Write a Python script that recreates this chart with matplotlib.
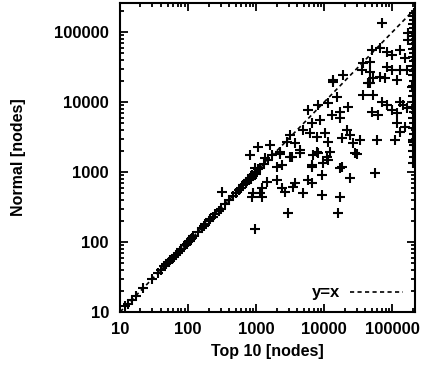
import matplotlib
matplotlib.use("Agg")
import matplotlib.pyplot as plt
from matplotlib.ticker import LogLocator, FixedLocator, NullFormatter

plt.rcParams['font.family'] = ['Liberation Sans', 'DejaVu Sans']
plt.rcParams['font.weight'] = 'bold'

# Points lying on / near the diagonal (Top 10 vs Normal)
diag_x = [12, 13, 15, 17, 22, 30, 36, 40, 45, 48, 52, 55, 58, 62, 66, 70, 75, 80,
          90, 95, 100, 105, 110, 115, 120, 140, 160, 170, 180, 200, 210, 230, 250,
          280, 300, 350, 400, 450, 500, 550, 600, 650, 700, 720, 750, 780, 800,
          830, 870, 900, 950, 1000, 1050, 1150, 1300, 1500]
diag_y = [12, 13, 15, 17, 22, 30, 36, 40, 45, 48, 52, 55, 58, 62, 66, 70, 75, 80,
          90, 95, 100, 105, 110, 115, 120, 140, 160, 170, 180, 200, 210, 230, 250,
          280, 300, 350, 400, 450, 500, 550, 600, 650, 720, 700, 780, 760, 820,
          800, 900, 870, 1000, 950, 1100, 1150, 1300, 1500]

# Scattered points
scat_x = [817, 2254, 3383, 4437, 6887, 8166, 12250, 30550, 2036, 2412, 6668, 9660,
          11450, 17180, 24100, 2036, 2412, 2669, 3748, 3500, 4910, 5821, 6668, 9350,
          9350, 17180, 2958, 16070, 56230, 1452, 316, 903, 1145, 1225, 873, 1225, 967,
          13560, 37500, 52600, 47460, 196800, 15530, 71290, 84370, 100000, 118500,
          131200, 145200, 166300, 13120, 17180, 22540, 17180, 50820, 62230, 118500,
          155400, 131200, 21780, 24100, 26690, 10350, 11450, 18400, 33830, 60140,
          110700, 203700, 28570, 18400,
          71290, 13560, 19020, 50820, 66680, 84370, 100000, 131200, 171800, 171800,
          37500, 47460, 36220, 47460, 52600, 66680, 44370, 84370, 100000, 131200,
          166300, 155400, 78890, 118500,
          5821, 8166, 11450, 8730, 6668, 4910, 6226, 7889, 3162, 2857, 3748, 4437,
          2254, 1069, 1607, 1356, 1718, 7889, 11070, 6668, 967, 3162,
          205000, 200000, 205000, 200000, 205000, 200000, 205000, 200000, 205000,
          200000, 205000, 200000, 205000, 200000, 205000, 200000, 205000, 200000,
          205000, 200000, 205000, 200000, 205000, 200000, 205000, 200000, 205000,
          200000, 205000, 200000, 205000, 200000]
scat_y = [1750, 1810, 1640, 1870, 1750, 1870, 1930, 1810, 1179, 1259, 1179, 1345,
          1485, 1141, 820, 768, 591, 518, 696, 610, 501, 768, 696, 906,
          469, 439, 260, 260, 968, 720, 518, 501, 501, 591, 439, 439, 153,
          19310, 12590, 12590, 18680, 16380, 11790, 10000, 9060, 7690, 6970,
          10000, 9060, 8210, 6520, 7200, 8480, 5910, 7200, 6520, 5010,
          4390, 3730, 3980, 3380, 2600, 3610, 2680, 3060, 2870, 2870,
          2870, 2680, 1870, 1179,
          134400, 20630, 24300, 55300, 59100, 51800, 46900, 55300, 96700, 76900,
          36100, 37300, 28650, 26830, 22030, 22760, 18680, 31620, 28650, 28650,
          28650, 42500, 22030, 20630,
          7690, 9060, 9680, 5530, 5010, 3980, 3610, 3162, 3380, 2680, 2600, 2060,
          1930, 2280, 2430, 1585, 1750, 1930, 1640, 1259, 1141, 1640,
          190000, 170000, 150000, 130000, 115000, 100000, 88000, 77000, 67000,
          58000, 50000, 44000, 38000, 33000, 28000, 24000, 20000, 17000,
          14500, 12000, 10000, 8500, 7200, 6000, 5000, 4200, 3500,
          2900, 2400, 2000, 1650, 1350]

x_ticks = [10, 100, 1000, 10000, 100000]
x_labels = ["10", "100", "1000", "10000", "100000"]
y_ticks = [10, 100, 1000, 10000, 100000]
y_labels = ["10", "100", "1000", "10000", "100000"]

fig = plt.figure(figsize=(4.24, 3.70), dpi=100)
ax = fig.add_axes([120/424, 1-312/370, 295/424, 309/370])
ax.set_xscale('log')
ax.set_yscale('log')
ax.set_xlim(10, 215000)
ax.set_ylim(10, 260000)

mk = dict(marker='+', linestyle='none', color='black', markersize=6.5, markeredgewidth=1.5)
ax.plot(diag_x, diag_y, **mk)
ax.plot(scat_x, scat_y, **mk)

line_x = [10, 215000]
ax.plot(line_x, line_x, linestyle=(0, (2.5, 2)), color='black', lw=1.2, label='y=x')

ax.xaxis.set_major_locator(FixedLocator(x_ticks))
ax.set_xticklabels(x_labels)
ax.yaxis.set_major_locator(FixedLocator(y_ticks))
ax.set_yticklabels(y_labels)
ax.xaxis.set_minor_locator(LogLocator(base=10, subs=range(2, 10)))
ax.yaxis.set_minor_locator(LogLocator(base=10, subs=range(2, 10)))
ax.xaxis.set_minor_formatter(NullFormatter())
ax.yaxis.set_minor_formatter(NullFormatter())
ax.tick_params(which='both', direction='in', top=True, right=True, labelsize=12, width=1.3)
ax.tick_params(which='major', length=6)
ax.tick_params(axis='x', which='major', pad=7)
ax.tick_params(axis='y', which='major', pad=8)
ax.tick_params(which='minor', length=3)
for sp in ax.spines.values():
    sp.set_linewidth(1.5)

ax.set_xlabel('Top 10 [nodes]', fontsize=11.5, fontweight='bold', labelpad=5)
ax.set_ylabel('Normal [nodes]', fontsize=11.5, fontweight='bold', labelpad=20)

leg = ax.legend(loc='lower right', frameon=False, fontsize=12, handlelength=3.2,
                markerfirst=False, borderaxespad=0.3, handletextpad=0.6)

fig.savefig('out.png', dpi=100)
